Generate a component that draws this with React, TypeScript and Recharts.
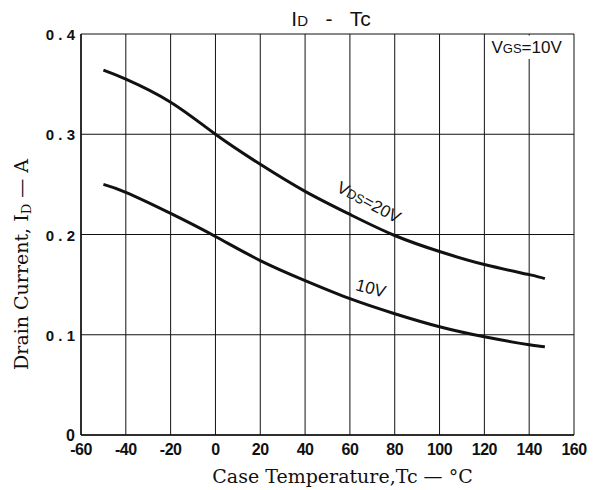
import React from 'react'
import { LineChart, Line, XAxis, YAxis, CartesianGrid, ReferenceArea, ReferenceDot, Label } from 'recharts'

// case temperature (°C) and drain current (A)
const tempC = [-50, -40, -20, 0, 20, 40, 60, 80, 100, 120, 140, 147]
const idVds20 = [0.364, 0.355, 0.332, 0.3, 0.27, 0.243, 0.22, 0.199, 0.183, 0.17, 0.16, 0.156]
const idVds10 = [0.25, 0.242, 0.221, 0.198, 0.174, 0.154, 0.136, 0.121, 0.108, 0.098, 0.09, 0.088]

const xTicks = [-60, -40, -20, 0, 20, 40, 60, 80, 100, 120, 140, 160]
const yTicks = [0, 0.1, 0.2, 0.3, 0.4]

const data = tempC.map((t, i) => ({ t, v20: idVds20[i], v10: idVds10[i] }))

const sans = '"Liberation Sans", Arial, sans-serif'
const serif = '"DejaVu Serif", "Liberation Serif", serif'

const XTick = (props: any) => {
  const { x, y, payload } = props
  return (
    <text x={x} y={y + 20} textAnchor="middle" fontFamily={sans} fontWeight="bold" fontSize={16} letterSpacing={-0.5} fill="#111">
      {payload.value}
    </text>
  )
}

const YTick = (props: any) => {
  const { x, y, payload } = props
  if (payload.value === 0) {
    return (
      <text x={x - 6} y={y + 6} textAnchor="end" fontFamily={sans} fontWeight="bold" fontSize={16} fill="#111">0</text>
    )
  }
  const s = payload.value.toFixed(1).split('').join(' ')
  return (
    <text x={x - 6} y={y + 6} textAnchor="end" fontFamily={sans} fontWeight="bold" fontSize={15} fill="#111" style={{ whiteSpace: 'pre' }}>
      {s}
    </text>
  )
}

const App = () => {
  return (
    <div style={{ position: 'absolute', left: 0, top: 0, width: 599, height: 490, background: '#fff' }}>
      <LineChart width={599} height={490} data={data} margin={{ top: 34, right: 25, bottom: 24, left: 21 }}>
        <CartesianGrid stroke="#111" strokeWidth={1} />
        <XAxis
          dataKey="t"
          type="number"
          domain={[-60, 160]}
          ticks={xTicks}
          interval={0}
          height={31}
          tickSize={0}
          tickMargin={0}
          tick={<XTick />}
          axisLine={{ stroke: '#111', strokeWidth: 1.5 }}
        >
          <Label
            content={({ viewBox }: any) => (
              <text x={viewBox.x + viewBox.width / 2 + 15} y={483} textAnchor="middle" fontFamily={serif} fontSize={19} fill="#111">
                Case Temperature,Tc — °C
              </text>
            )}
          />
        </XAxis>
        <YAxis
          type="number"
          domain={[0, 0.4]}
          ticks={yTicks}
          interval={0}
          width={60}
          tickSize={0}
          tickMargin={0}
          tick={<YTick />}
          axisLine={{ stroke: '#111', strokeWidth: 1.5 }}
        >
          <Label
            content={({ viewBox }: any) => {
              const cx = 28
              const cy = viewBox.y + viewBox.height / 2 + 30
              return (
                <text x={cx} y={cy} transform={`rotate(-90 ${cx} ${cy})`} textAnchor="middle" fontFamily={serif} fontSize={19} fill="#111">
                  Drain Current, I<tspan fontSize={13} dy={3}>D</tspan><tspan dy={-3}> — A</tspan>
                </text>
              )
            }}
          />
        </YAxis>
        <ReferenceArea
          x1={120.5}
          x2={159.4}
          y1={0.375}
          y2={0.3985}
          fill="#fff"
          fillOpacity={1}
          stroke="none"
          ifOverflow="visible"
          label={(p: any) => (
            <text x={p.viewBox.x + 6} y={p.viewBox.y + 17} fontFamily={sans} fontSize={17} fill="#111">
              V<tspan fontSize={13}>GS</tspan>=10V
            </text>
          )}
        />
        <Line type="natural" dataKey="v20" stroke="#111" strokeWidth={3} dot={false} isAnimationActive={false} />
        <Line type="natural" dataKey="v10" stroke="#111" strokeWidth={3} dot={false} isAnimationActive={false} />
        <ReferenceDot
          x={68.5}
          y={0.2324}
          r={0}
          fill="none"
          stroke="none"
          label={(p: any) => {
            const cx = p.viewBox.x + (p.viewBox.width || 0) / 2
            const cy = p.viewBox.y + (p.viewBox.height || 0) / 2
            return (
              <text x={cx} y={cy + 6} transform={`rotate(28 ${cx} ${cy})`} textAnchor="middle" fontFamily={sans} fontSize={17} fill="#111">
                V<tspan fontSize={13}>DS</tspan>=20V
              </text>
            )
          }}
        />
        <ReferenceDot
          x={69.4}
          y={0.1466}
          r={0}
          fill="none"
          stroke="none"
          label={(p: any) => {
            const cx = p.viewBox.x + (p.viewBox.width || 0) / 2
            const cy = p.viewBox.y + (p.viewBox.height || 0) / 2
            return (
              <text x={cx} y={cy + 6} transform={`rotate(15 ${cx} ${cy})`} textAnchor="middle" fontFamily={sans} fontSize={17} fill="#111">
                10V
              </text>
            )
          }}
        />
      </LineChart>
      <svg width={599} height={34} style={{ position: 'absolute', left: 0, top: 0 }}>
        <text x={331} y={26} textAnchor="middle" fontFamily={sans} fontSize={21} fill="#111" style={{ whiteSpace: 'pre' }}>
          I<tspan fontSize={15}>D</tspan>{'   -   '}Tc
        </text>
      </svg>
    </div>
  )
}

export default App
